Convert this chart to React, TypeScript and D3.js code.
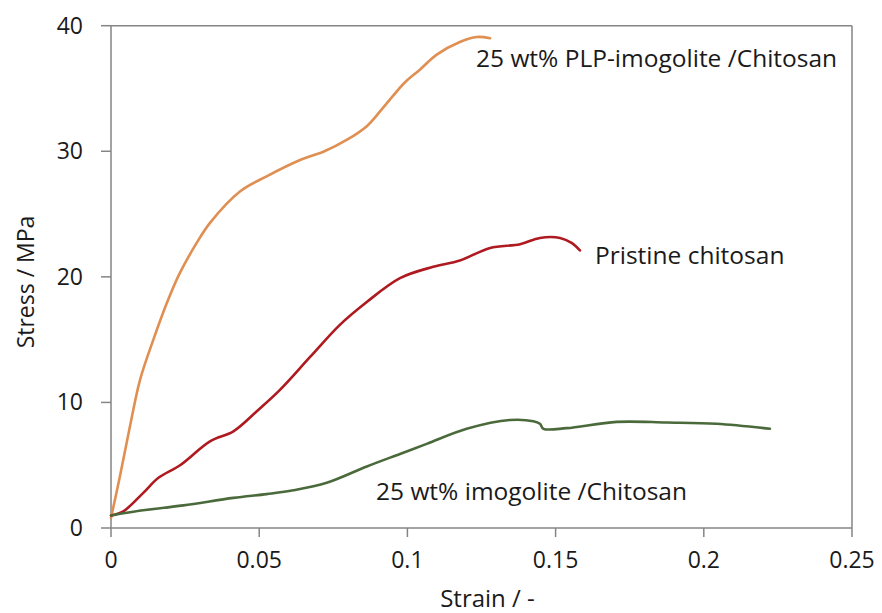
import React from "react";
import * as d3 from "d3";

const xTicks = [0, 0.05, 0.1, 0.15, 0.2, 0.25];
const yTicks = [0, 10, 20, 30, 40];

const plpStrain = [0, 0.003, 0.0064, 0.0098, 0.0143, 0.0188, 0.0230, 0.0289, 0.0334, 0.0435, 0.0525, 0.0638, 0.0720, 0.0795, 0.0863, 0.0919, 0.0992, 0.1042, 0.1099, 0.1177, 0.1234, 0.1279];
const plpStress = [0.8, 4.1, 8.1, 11.8, 15.0, 17.9, 20.2, 22.7, 24.3, 26.8, 28.0, 29.3, 30.0, 30.9, 32.0, 33.5, 35.5, 36.5, 37.7, 38.7, 39.1, 39.0];

const pristineStrain = [0, 0.004, 0.0109, 0.016, 0.0233, 0.0334, 0.0413, 0.0492, 0.057, 0.0671, 0.0773, 0.0863, 0.0975, 0.1087, 0.1177, 0.1279, 0.138, 0.1447, 0.1515, 0.1554, 0.1582];
const pristineStress = [1.0, 1.3, 2.8, 4.0, 5.0, 6.9, 7.7, 9.3, 11.0, 13.6, 16.2, 18.0, 19.9, 20.8, 21.3, 22.3, 22.6, 23.1, 23.1, 22.7, 22.1];

const imoStrain = [0, 0.0075, 0.0244, 0.0413, 0.0525, 0.0615, 0.0728, 0.0863, 0.0975, 0.1065, 0.12, 0.1346, 0.1425, 0.1447, 0.1459, 0.1537, 0.1706, 0.1875, 0.2043, 0.2223];
const imoStress = [1.0, 1.3, 1.8, 2.4, 2.7, 3.0, 3.6, 4.9, 5.9, 6.7, 7.9, 8.6, 8.5, 8.3, 7.9, 7.95, 8.45, 8.4, 8.3, 7.9];

const seriesList = [
  { name: "25 wt% PLP-imogolite /Chitosan", x: plpStrain, y: plpStress, color: "#E08F52", lx: 476, ly: 67 },
  { name: "Pristine chitosan", x: pristineStrain, y: pristineStress, color: "#AE1A20", lx: 595, ly: 264 },
  { name: "25 wt% imogolite /Chitosan", x: imoStrain, y: imoStress, color: "#4B6A3B", lx: 376, ly: 500 },
];

const W = 882;
const H = 613;
const left = 111;
const right = 852;
const top = 25.7;
const bottom = 528;

export default function App() {
  const x = d3.scaleLinear().domain([0, 0.25]).range([left, right]);
  const y = d3.scaleLinear().domain([0, 40]).range([bottom, top]);
  const line = d3
    .line<[number, number]>()
    .x((d) => x(d[0]))
    .y((d) => y(d[1]))
    .curve(d3.curveCatmullRom.alpha(0.5));
  const font = "'Open Sans', sans-serif";
  const axisColor = "#858585";
  return (
    <svg
      width={W}
      height={H}
      style={{ position: "absolute", left: 0, top: 0, background: "#fff" }}
      fontFamily={font}
    >
      <line x1={left} x2={right} y1={top} y2={top} stroke={axisColor} strokeWidth={1.5} />
      <line x1={right} x2={right} y1={top} y2={bottom} stroke={axisColor} strokeWidth={1.5} />
      <line x1={left} x2={left} y1={top} y2={bottom} stroke={axisColor} strokeWidth={1.5} />
      <line x1={left} x2={right} y1={bottom} y2={bottom} stroke={axisColor} strokeWidth={1.5} />
      {yTicks.map((t) => (
        <g key={"y" + t}>
          <line x1={left - 10} x2={left} y1={y(t)} y2={y(t)} stroke={axisColor} strokeWidth={1.5} />
          <text x={83} y={y(t)} dy="0.35em" textAnchor="end" fontSize={23} fill="#1a1a1a">
            {t}
          </text>
        </g>
      ))}
      {xTicks.map((t) => (
        <g key={"x" + t}>
          <line x1={x(t)} x2={x(t)} y1={bottom} y2={bottom + 9} stroke={axisColor} strokeWidth={1.5} />
          <text x={x(t)} y={568} textAnchor="middle" fontSize={23} fill="#1a1a1a">
            {t}
          </text>
        </g>
      ))}
      <text x={(left + right) / 2 + 6} y={607} textAnchor="middle" fontSize={24} fill="#1a1a1a">
        Strain / -
      </text>
      <text
        transform={`translate(34,282) rotate(-90)`}
        textAnchor="middle"
        fontSize={23}
        fill="#1a1a1a"
      >
        Stress / MPa
      </text>
      {seriesList.map((s) => (
        <g key={s.name}>
          <path
            d={line(s.x.map((v, i) => [v, s.y[i]] as [number, number])) || ""}
            fill="none"
            stroke={s.color}
            strokeWidth={2.6}
            strokeLinejoin="round"
            strokeLinecap="round"
          />
          <text x={s.lx} y={s.ly} fontSize={24.5} fill="#1a1a1a">
            {s.name}
          </text>
        </g>
      ))}
    </svg>
  );
}
